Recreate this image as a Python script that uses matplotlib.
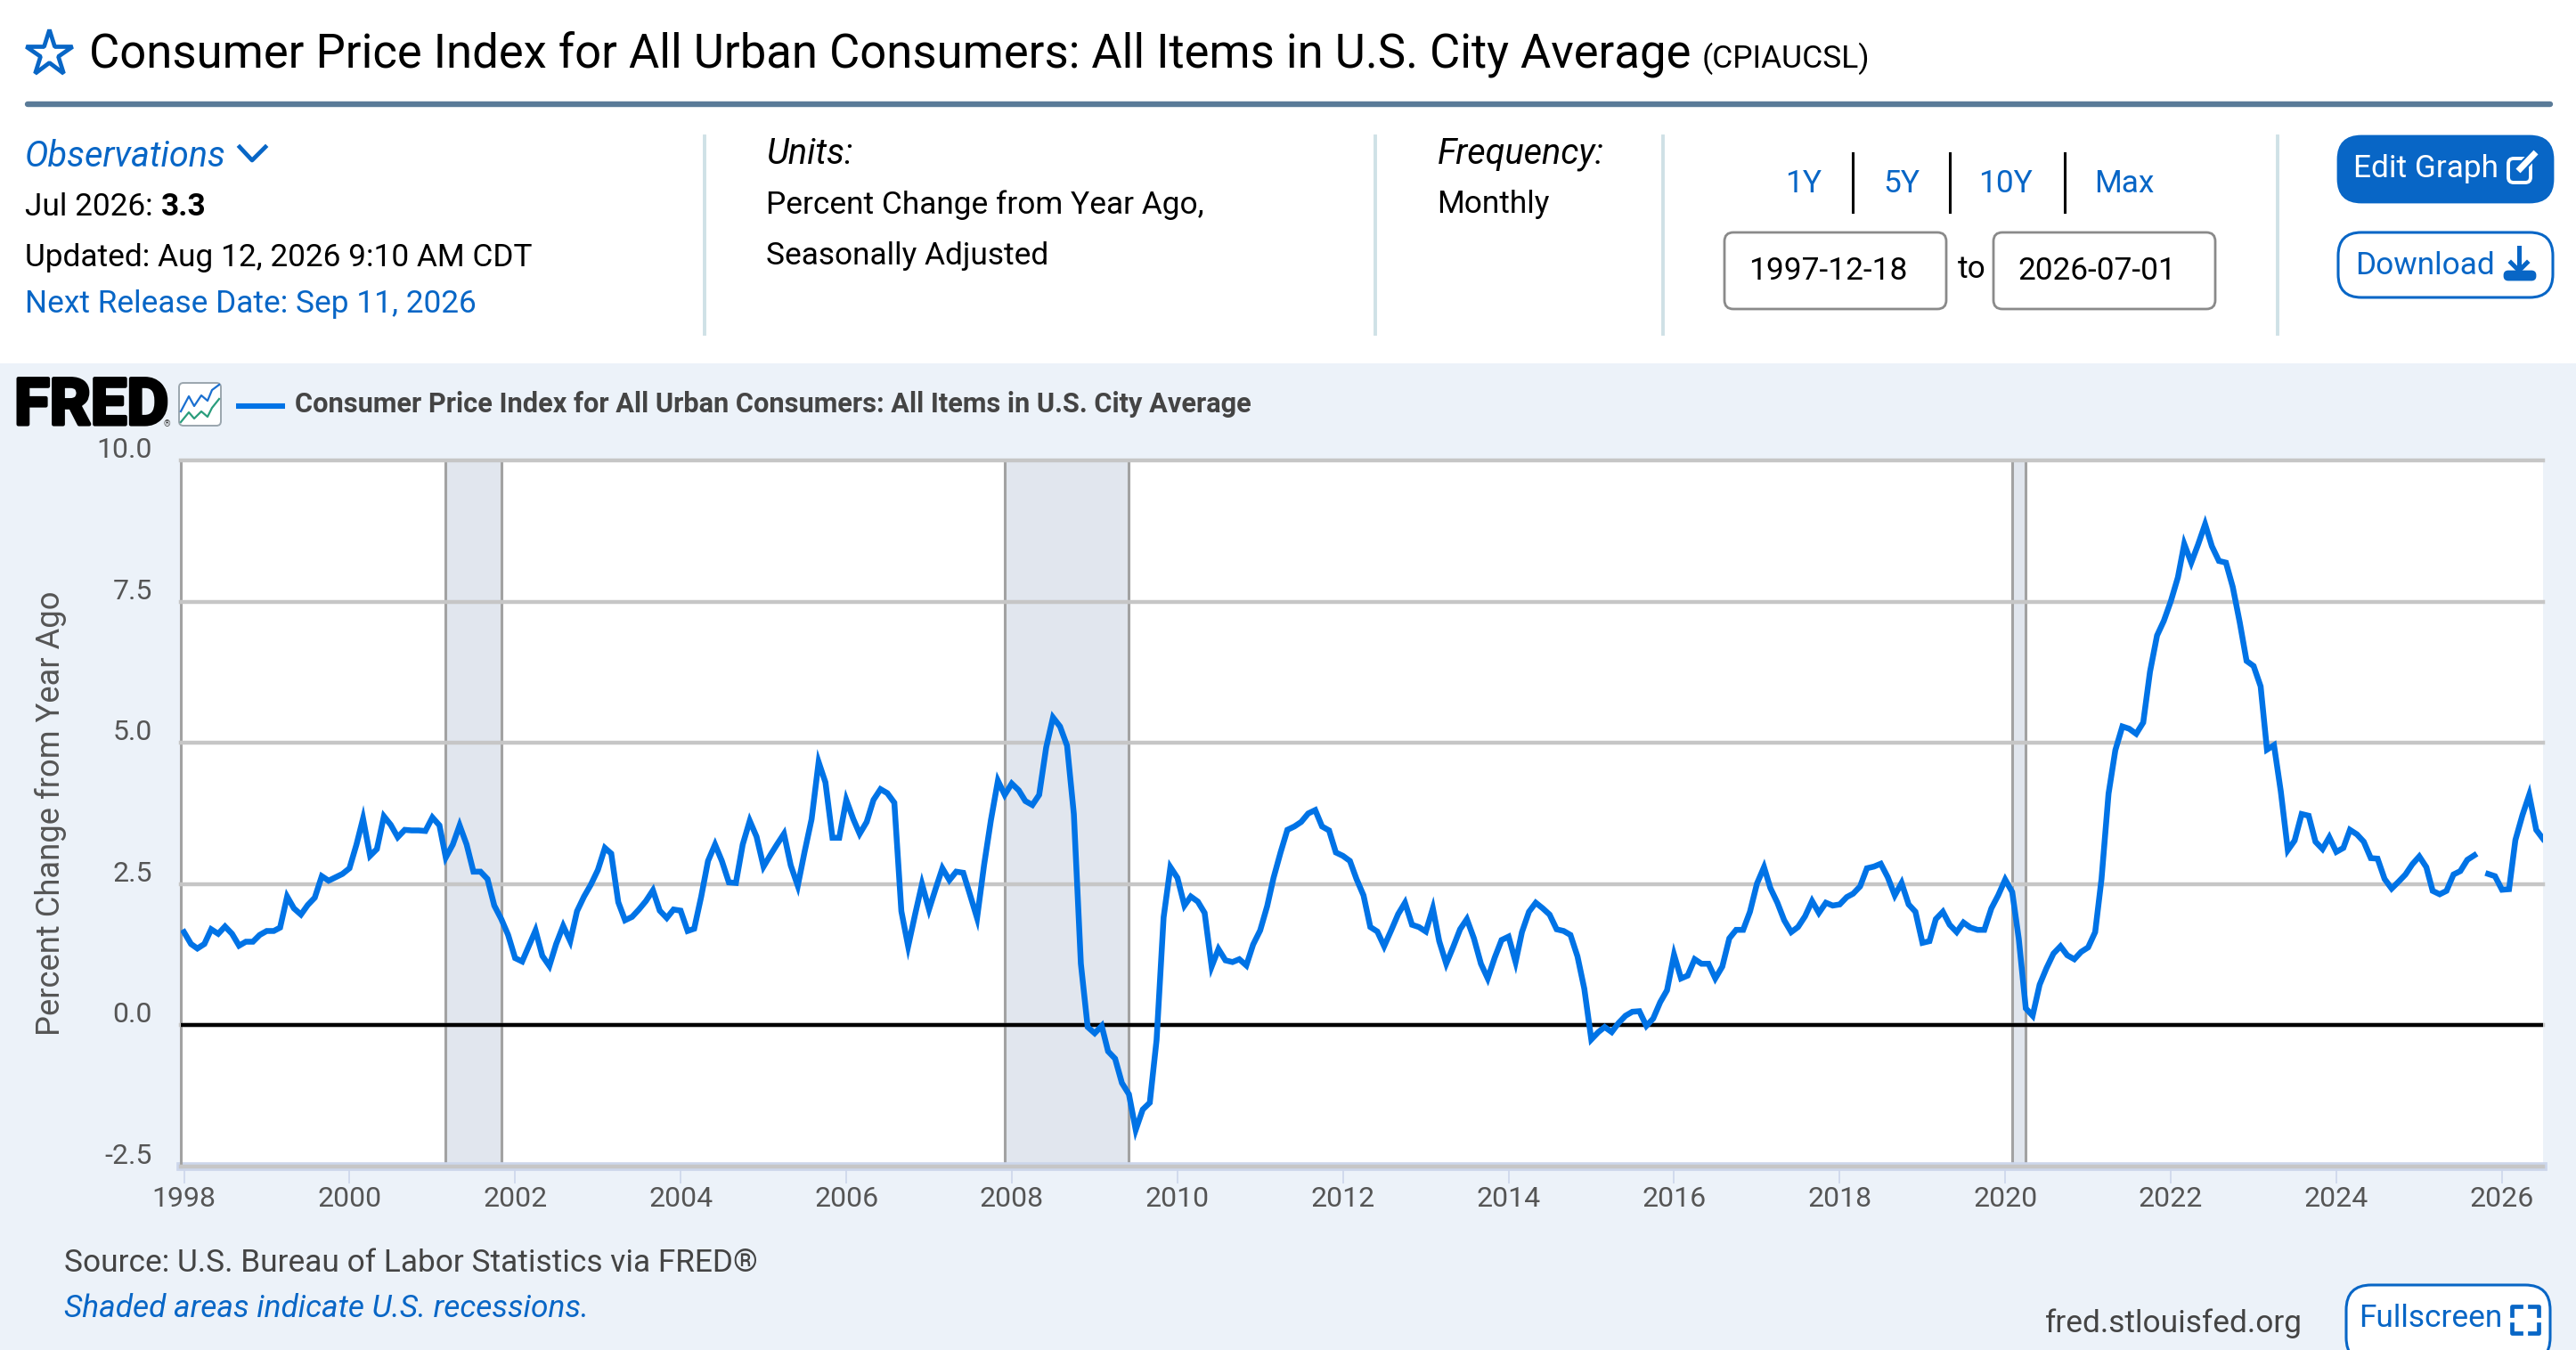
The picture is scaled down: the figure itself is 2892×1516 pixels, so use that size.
import numpy as np
import pandas as pd
import matplotlib
matplotlib.use('Agg')
import matplotlib.pyplot as plt
import matplotlib.patheffects as pe
from matplotlib.patches import Rectangle, FancyBboxPatch
from matplotlib.transforms import ScaledTranslation

plt.rcParams['font.family'] = ['Roboto', 'DejaVu Sans']

nan = float('nan')

# monthly values, Oct 2025 is missing there
y1998_2002 = [1.65, 1.44, 1.36, 1.44, 1.70, 1.62, 1.75, 1.62, 1.41, 1.48, 1.48, 1.60,
              1.67, 1.67, 1.73, 2.28, 2.07, 1.96, 2.13, 2.26, 2.64, 2.56, 2.62, 2.68,
              2.78, 3.20, 3.66, 3.00, 3.12, 3.70, 3.55, 3.33, 3.46, 3.45, 3.45, 3.44,
              3.68, 3.54, 2.97, 3.20, 3.54, 3.20, 2.72, 2.72, 2.59, 2.12, 1.88, 1.60,
              1.19, 1.13, 1.39, 1.68, 1.23, 1.05, 1.44, 1.76, 1.49, 2.02, 2.28, 2.49]
y2003_2007 = [2.75, 3.14, 3.04, 2.18, 1.86, 1.92, 2.05, 2.20, 2.39, 2.03, 1.90, 2.05,
              2.03, 1.67, 1.71, 2.28, 2.91, 3.20, 2.91, 2.53, 2.52, 3.20, 3.62, 3.34,
              2.81, 3.02, 3.20, 3.39, 2.83, 2.47, 3.07, 3.65, 4.66, 4.30, 3.32, 3.32,
              3.99, 3.65, 3.39, 3.60, 3.99, 4.18, 4.11, 3.94, 2.02, 1.40, 1.97, 2.50,
              2.05, 2.44, 2.78, 2.57, 2.72, 2.70, 2.31, 1.90, 2.84, 3.63, 4.33, 4.08]
y2008_2012 = [4.28, 4.16, 3.97, 3.90, 4.08, 4.92, 5.45, 5.29, 4.95, 3.74, 1.09, -0.03,
              -0.14, -0.01, -0.46, -0.59, -1.02, -1.22, -1.85, -1.49, -1.37, -0.26, 1.91, 2.80,
              2.61, 2.12, 2.28, 2.19, 1.99, 1.04, 1.35, 1.15, 1.12, 1.17, 1.06, 1.43,
              1.68, 2.11, 2.61, 3.06, 3.46, 3.52, 3.60, 3.75, 3.81, 3.52, 3.45, 3.06,
              3.00, 2.91, 2.59, 2.30, 1.74, 1.66, 1.40, 1.68, 1.97, 2.17, 1.78, 1.74]
y2013_2017 = [1.66, 2.07, 1.49, 1.09, 1.38, 1.70, 1.88, 1.54, 1.09, 0.83, 1.20, 1.51,
              1.57, 1.12, 1.65, 2.01, 2.17, 2.07, 1.96, 1.70, 1.67, 1.60, 1.22, 0.65,
              -0.25, -0.12, -0.03, -0.12, 0.04, 0.17, 0.24, 0.25, -0.01, 0.12, 0.41, 0.62,
              1.25, 0.83, 0.88, 1.17, 1.09, 1.09, 0.83, 1.04, 1.54, 1.69, 1.69, 2.01,
              2.51, 2.80, 2.43, 2.17, 1.86, 1.65, 1.74, 1.93, 2.20, 1.99, 2.17, 2.12]
y2018_2022 = [2.14, 2.27, 2.33, 2.46, 2.78, 2.81, 2.86, 2.62, 2.30, 2.52, 2.14, 2.01,
              1.46, 1.49, 1.88, 2.01, 1.78, 1.65, 1.82, 1.73, 1.69, 1.69, 2.07, 2.30,
              2.58, 2.36, 1.53, 0.30, 0.17, 0.72, 1.01, 1.27, 1.40, 1.24, 1.17, 1.30,
              1.38, 1.65, 2.59, 4.10, 4.87, 5.29, 5.25, 5.16, 5.36, 6.26, 6.90, 7.16,
              7.51, 7.93, 8.52, 8.19, 8.51, 8.87, 8.48, 8.22, 8.19, 7.76, 7.13, 6.45]
y2023_2026 = [6.36, 6.00, 4.88, 4.96, 4.14, 3.10, 3.27, 3.74, 3.71, 3.25, 3.12, 3.33,
              3.07, 3.14, 3.46, 3.38, 3.25, 2.96, 2.95, 2.59, 2.42, 2.54, 2.67, 2.85,
              2.99, 2.80, 2.38, 2.32, 2.38, 2.67, 2.73, 2.93, 3.01, nan, 2.68, 2.64,
              2.40, 2.41, 3.28, 3.72, 4.08, 3.46, 3.30]

cpi_yoy = y1998_2002 + y2003_2007 + y2008_2012 + y2013_2017 + y2018_2022 + y2023_2026
months = pd.date_range('1998-01-01', periods=len(cpi_yoy), freq='MS')

recessions = [('2001-03-01', '2001-11-01'), ('2007-12-01', '2009-06-01'), ('2020-02-01', '2020-04-01')]
y_ticks = [-2.5, 0.0, 2.5, 5.0, 7.5, 10.0]
x_years = list(range(1998, 2027, 2))

W, H = 2892, 1516
BLUE = '#0866c6'
LINE = '#0073e6'
PANEL = '#ecf2f9'
DARK = '#444444'
BODY = 25.4

fig = plt.figure(figsize=(W / 100, H / 100), dpi=100, facecolor='white')

# page furniture, drawn in pixel coordinates
bg = fig.add_axes([0, 0, 1, 1])
bg.set_xlim(0, W)
bg.set_ylim(H, 0)
bg.axis('off')


def txt(x, y, s, size, color='black', **kw):
    kw.setdefault('va', 'center')
    return bg.text(x, y, s, fontsize=size, color=color, **kw)


def box(x0, y0, x1, y1, face, edge, lw=2.0, r=16):
    bg.add_patch(FancyBboxPatch((x0 + r, y0 + r), x1 - x0 - 2 * r, y1 - y0 - 2 * r,
                                boxstyle='round,pad=%d,rounding_size=%d' % (r, r),
                                fc=face, ec=edge, lw=lw))


bg.add_patch(Rectangle((0, 408), W, H - 408, fc=PANEL, ec='none'))

# header
bg.plot([55], [60], marker='*', ms=39, mfc='none', mec=BLUE, mew=3.4)
txt(100, 61, 'Consumer Price Index for All Urban Consumers: All Items in U.S. City Average', 37.9)
txt(1911, 66, '(CPIAUCSL)', 25.5)
bg.plot([31, 2863], [117, 117], color='#5a7b98', lw=4.6, solid_capstyle='round')

# info columns
for xd in [791, 1544, 1867, 2557]:
    bg.plot([xd, xd], [153, 375], color='#cfe1e6', lw=2.8)

txt(28, 176, 'Observations', 28.5, BLUE, style='italic')
bg.plot([269, 283, 298], [165, 180, 165], color=BLUE, lw=3.4)
txt(28, 233, 'Jul 2026: ', BODY)
txt(181, 233, '3.3', BODY, weight='bold')
txt(28, 289, 'Updated: Aug 12, 2026 9:10 AM CDT', BODY)
txt(28, 342, 'Next Release Date: Sep 11, 2026', BODY, BLUE)

txt(860, 173, 'Units:', 28.5, style='italic')
txt(860, 230, 'Percent Change from Year Ago,', BODY)
txt(860, 287, 'Seasonally Adjusted', BODY)

txt(1614, 173, 'Frequency:', 28.5, style='italic')
txt(1613, 230, 'Monthly', BODY)

# range links and date boxes
for xc, s in zip([2025, 2135, 2252, 2385], ['1Y', '5Y', '10Y', 'Max']):
    txt(xc, 207, s, BODY, BLUE, ha='center')
for xs in [2080, 2189, 2318]:
    bg.plot([xs, xs], [172, 238], color='black', lw=2.2)
box(1936, 261, 2185, 347, 'white', '#8a8a8a', r=10)
box(2238, 261, 2487, 347, 'white', '#8a8a8a', r=10)
txt(1963, 304, '1997-12-18', BODY)
txt(2198, 303, 'to', BODY)
txt(2265, 304, '2026-07-01', BODY)

# buttons
box(2625, 153, 2866, 227, BLUE, BLUE, r=26)
txt(2642, 190, 'Edit Graph', BODY, 'white')
box(2816, 178, 2841, 205, 'none', 'white', lw=2.8, r=6)
bg.plot([2827, 2848], [192, 170], color=BLUE, lw=8, solid_capstyle='butt')
bg.plot([2827, 2847], [192, 171], color='white', lw=5, solid_capstyle='butt')
box(2625, 261, 2866, 334, 'white', BLUE, lw=2.2, r=26)
txt(2644, 299, 'Download', BODY, BLUE)
bg.plot([2828, 2828], [278, 303], color=BLUE, lw=3.6)
bg.plot([2819, 2828, 2837], [295, 304, 295], color=BLUE, lw=3.6)
box(2812, 305, 2846, 314, BLUE, BLUE, r=4)

# logo and legend row
fred = txt(16, 457, 'FRED', 52, 'black', weight='bold')
fred.set_path_effects([pe.withStroke(linewidth=3, foreground='black')])
txt(184, 476, '®', 7, DARK)
box(201, 430, 248, 478, 'white', '#9aa5ad', lw=1.4, r=5)
bg.plot([203, 212, 218, 226, 233, 238, 246], [462, 445, 456, 444, 450, 438, 432], color='#1a6fd0', lw=1.6)
bg.plot([203, 212, 218, 226, 233, 238, 246], [474, 463, 470, 462, 468, 458, 448], color='#2a9d7c', lw=1.6)
bg.plot([265, 320], [456, 456], color=LINE, lw=4.4, solid_capstyle='butt')
txt(331, 454, 'Consumer Price Index for All Urban Consumers: All Items in U.S. City Average',
    22.15, DARK, weight='bold')

# footer
txt(72, 1419, 'Source: U.S. Bureau of Labor Statistics via FRED®', 25.4, DARK)
txt(72, 1469, 'Shaded areas indicate U.S. recessions.', 25.4, BLUE, style='italic')
txt(2296, 1486, 'fred.stlouisfed.org', 25.4, DARK)
box(2634, 1443, 2863, 1530, 'white', BLUE, lw=2.2, r=28)
txt(2648, 1481, 'Fullscreen', BODY, BLUE)
for xa, xb in [(2820, 2830), (2850, 2840)]:
    for ya, yb in [(1467, 1477), (1497, 1487)]:
        bg.plot([xb, xa, xa], [ya, ya, yb], color=BLUE, lw=3.4)

# chart
left, right, top, bottom = 203, 2855, 517, 1310
ax = fig.add_axes([left / W, 1 - bottom / H, (right - left) / W, (bottom - top) / H], facecolor='white')
ax.set_xlim(pd.Timestamp('1997-12-18'), pd.Timestamp('2026-07-01'))
ax.set_ylim(-2.5, 10)

for start, end in recessions:
    ax.axvspan(pd.Timestamp(start), pd.Timestamp(end), color='#e1e6ee', lw=0, zorder=1)
    ax.axvline(pd.Timestamp(start), color='#a2a2a2', lw=2.2, zorder=2)
    ax.axvline(pd.Timestamp(end), color='#a2a2a2', lw=2.2, zorder=2)

ax.set_yticks(y_ticks)
labels = ax.set_yticklabels(['%.1f' % v for v in y_ticks], fontsize=23, color='#555555')
ax.tick_params(axis='y', length=0, pad=23)
shift = ScaledTranslation(0, -0.03, fig.dpi_scale_trans)
for lab in labels:
    lab.set_va('bottom')
    lab.set_transform(lab.get_transform() + shift)
ax.grid(axis='y', color='#c6c6c6', lw=3.2, zorder=3)
ax.set_axisbelow(False)
for gl in ax.get_ygridlines():
    gl.set_clip_on(False)
    gl.set_zorder(3)
ax.axhline(0, color='black', lw=3.2, zorder=4)
ax.plot(months, cpi_yoy, color=LINE, lw=4.7, solid_joinstyle='miter', zorder=5)

ax.set_xticks([pd.Timestamp('%d-01-01' % y) for y in x_years])
ax.set_xticklabels([str(y) for y in x_years], fontsize=23, color='#555555')
ax.tick_params(axis='x', length=14, width=1.2, color='#ccd6eb', pad=2)

for s in ['top', 'right']:
    ax.spines[s].set_visible(False)
ax.spines['left'].set_color('#a2a2a2')
ax.spines['left'].set_linewidth(2.2)
ax.spines['bottom'].set_color('#ccd6eb')
ax.spines['bottom'].set_linewidth(7)
ax.spines['bottom'].set_zorder(2)

txt(57, 913, 'Percent Change from Year Ago', 26.2, '#555555', rotation=90, ha='center')

fig.savefig('out.png', dpi=100, facecolor='white')
